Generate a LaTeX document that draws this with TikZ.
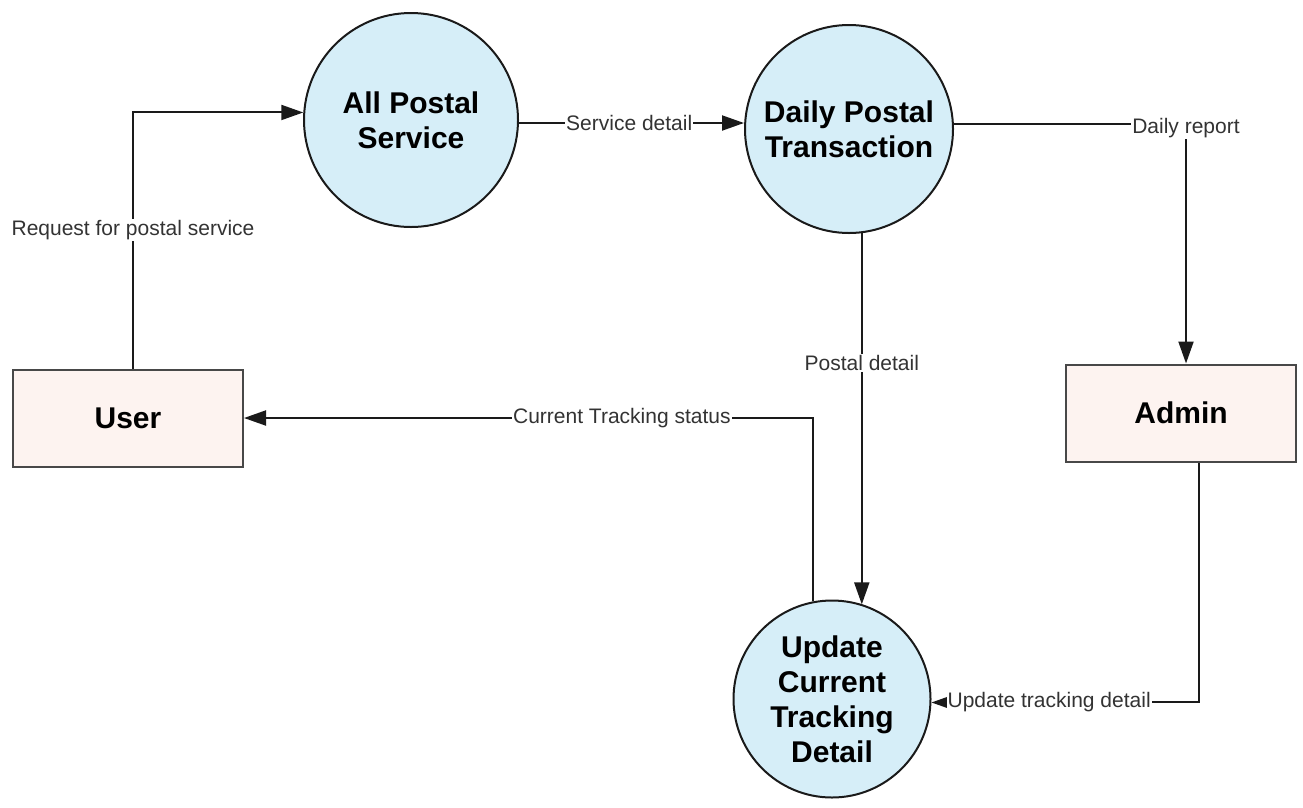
\documentclass[tikz,border=0pt]{standalone}
\usepackage{fontspec}
\setmainfont{Liberation Sans}
\usetikzlibrary{arrows.meta}
\definecolor{procfill}{HTML}{D6EEF8}
\definecolor{entfill}{HTML}{FDF3F0}
\definecolor{ink}{HTML}{1A1A1A}
\tikzset{
  proc/.style={circle, draw=ink, line width=2pt, fill=procfill, minimum size=212pt,
    inner sep=0pt, align=center, font=\fontsize{30}{35}\selectfont\bfseries},
  ent/.style={rectangle, draw=ink!80, line width=2pt, fill=entfill, minimum width=230pt,
    minimum height=97pt, font=\fontsize{30}{35}\selectfont\bfseries},
  flow/.style={draw=ink, line width=2pt, -{Triangle[length=22pt,width=15pt]}},
  lbl/.style={fill=white, inner sep=1pt, text=black!80, font=\fontsize{21}{25}\selectfont}
}
\begin{document}
\begin{tikzpicture}[x=1pt, y=-1pt]
  \useasboundingbox (0,0) rectangle (1303,807);

  % processes
  \node[proc, minimum size=214pt] (svc) at (411,120) {All Postal\\Service};
  \node[proc, minimum size=208pt] (day) at (849,129) {Daily Postal\\Transaction};
  \node[proc, minimum size=197pt] (trk) at (832,699) {Update\\Current\\Tracking\\Detail};

  % external entities
  \node[ent] (usr) at (128,418) {User};
  \node[ent] (adm) at (1181,413) {Admin};

  % data flows
  \draw[flow] ([xshift=5pt]usr.north) |- (svc.176)
    node[lbl, pos=0.27] {Request for postal service};
  \draw[flow] ([yshift=-3pt]svc.east) -- ([yshift=-3pt]svc.east -| day.west)
    node[lbl, pos=0.49] {Service detail};
  \draw[flow] (day.3) -| ([xshift=5pt]adm.north)
    node[lbl, pos=0.5, yshift=-5pt] {Daily report};
  \draw[flow] (day.-83) -- (day.-83 |- trk.72)
    node[lbl, pos=0.35] {Postal detail};
  \draw[flow] (trk.101) |- (usr.east)
    node[lbl, pos=0.668] {Current Tracking status};
  \draw[flow] ([xshift=18pt]adm.south) |- (trk.-2)
    node[lbl, pos=0.78] {Update tracking detail};
\end{tikzpicture}
\end{document}
